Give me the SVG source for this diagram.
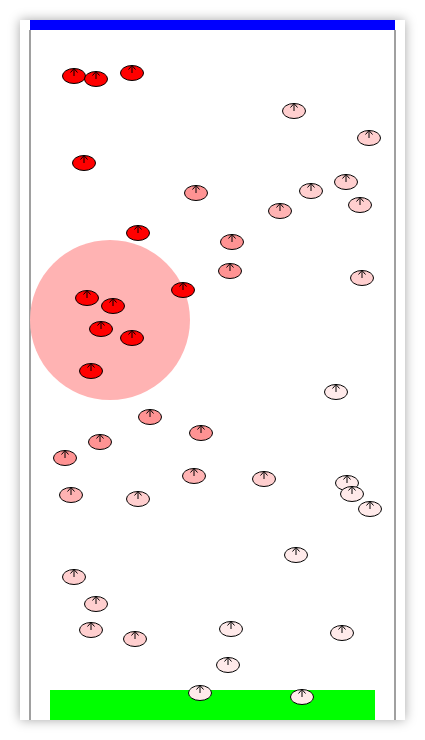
<svg xmlns="http://www.w3.org/2000/svg" xmlns:xlink="http://www.w3.org/1999/xlink" width="425" height="740" viewBox="0 0 425 740">
<style>
.r{fill:#ff0000}
.s{fill:#ff9393}
.m{fill:#ffb3b3}
.l{fill:#ffcfcf}
.v{fill:#ffeaea}
</style>
<defs>
<filter id="sh" x="-20%" y="-20%" width="140%" height="140%">
<feDropShadow dx="0" dy="0" stdDeviation="6" flood-color="#000" flood-opacity="0.35"/>
</filter>
<g id="agent">
<ellipse cx="0" cy="0" rx="11.5" ry="7.5" stroke="#000" stroke-width="1"/>
<line x1="0" y1="0" x2="0" y2="-7.5" stroke="#000" stroke-width="1" fill="none"/>
<polyline points="-3.5,-3.5 0,-7.5 3.5,-3.5" stroke="#000" stroke-width="1" fill="none"/>
</g>
</defs>
<rect width="425" height="740" fill="#fff"/>
<g id="board">
<rect x="20" y="20" width="385" height="700" fill="#fff" filter="url(#sh)"/>
<rect x="30" y="20" width="365" height="10" fill="#0000ff"/>
<line x1="30" y1="30" x2="30" y2="720" stroke="#808080" stroke-width="1.5"/>
<line x1="395" y1="30" x2="395" y2="720" stroke="#808080" stroke-width="1.5"/>
<rect x="50" y="690" width="325" height="30" fill="#00ff00"/>
<circle cx="110" cy="320" r="80" fill="#ffb3b3"/>
</g>
<g id="agents">
<g id="a1" class="r" transform="translate(74,76)"><use href="#agent"/></g>
<g id="a2" class="r" transform="translate(96,79)"><use href="#agent"/></g>
<g id="a3" class="r" transform="translate(132,73)"><use href="#agent"/></g>
<g id="a4" class="l" transform="translate(294,111)"><use href="#agent"/></g>
<g id="a5" class="l" transform="translate(369,138)"><use href="#agent"/></g>
<g id="a6" class="r" transform="translate(84,163)"><use href="#agent"/></g>
<g id="a7" class="s" transform="translate(196,193)"><use href="#agent"/></g>
<g id="a8" class="l" transform="translate(311,191)"><use href="#agent"/></g>
<g id="a9" class="l" transform="translate(346,182)"><use href="#agent"/></g>
<g id="a10" class="l" transform="translate(360,205)"><use href="#agent"/></g>
<g id="a11" class="m" transform="translate(280,211)"><use href="#agent"/></g>
<g id="a12" class="r" transform="translate(138,233)"><use href="#agent"/></g>
<g id="a13" class="s" transform="translate(232,242)"><use href="#agent"/></g>
<g id="a14" class="s" transform="translate(230,271)"><use href="#agent"/></g>
<g id="a15" class="l" transform="translate(362,278)"><use href="#agent"/></g>
<g id="a16" class="r" transform="translate(183,290)"><use href="#agent"/></g>
<g id="a17" class="r" transform="translate(87,298)"><use href="#agent"/></g>
<g id="a18" class="r" transform="translate(113,306)"><use href="#agent"/></g>
<g id="a19" class="r" transform="translate(101,329)"><use href="#agent"/></g>
<g id="a20" class="r" transform="translate(132,338)"><use href="#agent"/></g>
<g id="a21" class="r" transform="translate(91,371)"><use href="#agent"/></g>
<g id="a22" class="v" transform="translate(336,392)"><use href="#agent"/></g>
<g id="a23" class="s" transform="translate(150,417)"><use href="#agent"/></g>
<g id="a24" class="s" transform="translate(201,433)"><use href="#agent"/></g>
<g id="a25" class="s" transform="translate(100,442)"><use href="#agent"/></g>
<g id="a26" class="s" transform="translate(65,458)"><use href="#agent"/></g>
<g id="a27" class="m" transform="translate(71,495)"><use href="#agent"/></g>
<g id="a28" class="l" transform="translate(138,499)"><use href="#agent"/></g>
<g id="a29" class="m" transform="translate(194,476)"><use href="#agent"/></g>
<g id="a30" class="l" transform="translate(264,479)"><use href="#agent"/></g>
<g id="a31" class="v" transform="translate(347,483)"><use href="#agent"/></g>
<g id="a32" class="v" transform="translate(352,494)"><use href="#agent"/></g>
<g id="a33" class="v" transform="translate(370,509)"><use href="#agent"/></g>
<g id="a34" class="v" transform="translate(296,555)"><use href="#agent"/></g>
<g id="a35" class="l" transform="translate(74,577)"><use href="#agent"/></g>
<g id="a36" class="l" transform="translate(96,604)"><use href="#agent"/></g>
<g id="a37" class="l" transform="translate(91,630)"><use href="#agent"/></g>
<g id="a38" class="l" transform="translate(135,639)"><use href="#agent"/></g>
<g id="a39" class="v" transform="translate(231,629)"><use href="#agent"/></g>
<g id="a40" class="v" transform="translate(342,633)"><use href="#agent"/></g>
<g id="a41" class="v" transform="translate(228,665)"><use href="#agent"/></g>
<g id="a42" class="v" transform="translate(200,693)"><use href="#agent"/></g>
<g id="a43" class="v" transform="translate(302,697)"><use href="#agent"/></g>
</g>
</svg>
